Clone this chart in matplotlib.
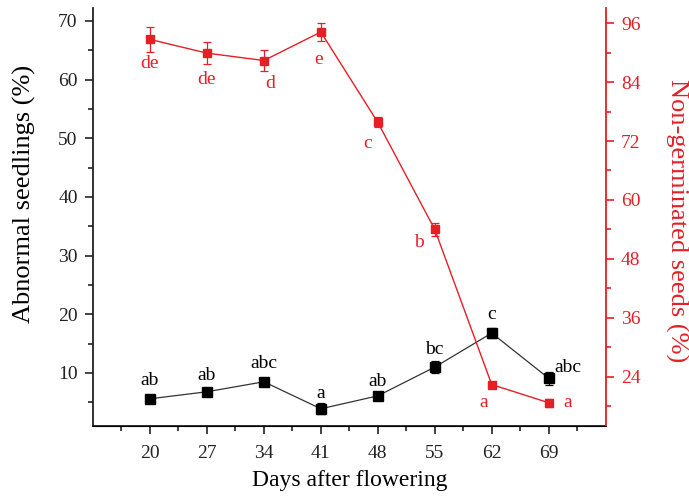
import matplotlib
matplotlib.use("Agg")
import matplotlib.pyplot as plt
from matplotlib.ticker import FixedLocator

plt.rcParams['font.family'] = ['Liberation Serif', 'DejaVu Serif']

days = [20, 27, 34, 41, 48, 55, 62, 69]
abnormal = [5.6, 6.8, 8.5, 3.9, 6.1, 11.0, 16.8, 9.1]
abnormal_err = [0.6, 0.6, 0.6, 0.9, 0.6, 1.0, 0.8, 1.1]
abnormal_lbl = ['ab', 'ab', 'abc', 'a', 'ab', 'bc', 'c', 'abc']
nongerm = [92.7, 89.9, 88.4, 94.2, 75.8, 54.0, 22.4, 18.7]
nongerm_err = [2.5, 2.2, 2.1, 1.8, 1.0, 1.3, 0.6, 0.8]
nongerm_lbl = ['de', 'de', 'd', 'e', 'c', 'b', 'a', 'a']

RED = '#e41f26'
fig = plt.figure(figsize=(6.89, 4.98), dpi=100)
ax = fig.add_axes([0.135, 0.145, 0.744, 0.839])
ax2 = ax.twinx()

ax.errorbar(days, abnormal, yerr=abnormal_err, color='#333333', lw=0.9,
            marker='s', ms=6.5, mfc='black', mec='black', ecolor='black',
            elinewidth=0.9, capsize=3, capthick=0.9, zorder=3)
ax2.errorbar(days, nongerm, yerr=nongerm_err, color=RED, lw=1.0,
             marker='s', ms=6.2, mfc=RED, mec=RED, ecolor=RED,
             elinewidth=0.9, capsize=3, capthick=0.9, zorder=3)

# letter labels
blk_off = [(0, 1.6), (0, 1.4), (0, 1.6), (0, 1.2), (0, 1.0), (0, 1.5), (0, 1.8), (2.4, 0.4)]
for d, v, lab, (dx, dy) in zip(days, abnormal, abnormal_lbl, blk_off):
    ax.text(d + dx, v + dy, lab, ha='center', va='bottom', fontsize=14, color='black')
red_off = [(0, -5.0), (0, -5.3), (0.8, -4.7), (-0.3, -5.6), (-1.3, -4.3), (-2.0, -2.6), (-1.0, -3.6), (2.3, 0.0)]
for d, v, lab, (dx, dy) in zip(days, nongerm, nongerm_lbl, red_off):
    ax2.text(d + dx, v + dy, lab, ha='center', va='center', fontsize=14, color=RED)

ax.set_xlim(13, 76)
ax.set_ylim(1, 72.2)
ax2.set_ylim(14, 99.1)

ax.set_xticks(days)
ax.xaxis.set_minor_locator(FixedLocator([16.5 + 7 * i for i in range(9)]))
ax.yaxis.set_major_locator(FixedLocator([10, 20, 30, 40, 50, 60, 70]))
ax.yaxis.set_minor_locator(FixedLocator([5, 15, 25, 35, 45, 55, 65]))
ax2.yaxis.set_major_locator(FixedLocator([24, 36, 48, 60, 72, 84, 96]))
ax2.yaxis.set_minor_locator(FixedLocator([18, 30, 42, 54, 66, 78, 90]))

ax.spines['top'].set_visible(False)
ax2.spines['top'].set_visible(False)
for s in ['left', 'bottom']:
    ax.spines[s].set_linewidth(1.3)
    ax.spines[s].set_color('#222222')
ax2.spines['right'].set_color(RED)
ax2.spines['right'].set_linewidth(1.3)
ax2.spines['left'].set_visible(False)
ax.spines['right'].set_visible(False)

ax.tick_params(axis='both', which='major', direction='out', length=6, width=1.2,
               labelsize=14, colors='#222222', pad=5)
ax.tick_params(axis='x', which='major', pad=8)
ax.tick_params(axis='both', which='minor', direction='out', length=3.5, width=1.2, colors='#222222')
ax2.tick_params(axis='y', which='major', direction='out', length=6, width=1.2,
                labelsize=14, colors=RED, pad=5)
ax2.tick_params(axis='y', which='minor', direction='out', length=3.5, width=1.2, colors=RED)

ax.set_xlabel('Days after flowering', fontsize=17, va='center')
ax.xaxis.set_label_coords(0.5, -0.132)
ax.set_ylabel('Abnormal seedlings (%)', fontsize=19, va='center')
ax.yaxis.set_label_coords(-0.133, 0.555)
ax2.set_ylabel('Non-germinated seeds (%)', fontsize=19, color=RED, rotation=270, va='center')
ax2.yaxis.set_label_coords(1.138, 0.49)

fig.savefig('out.png', dpi=100)
